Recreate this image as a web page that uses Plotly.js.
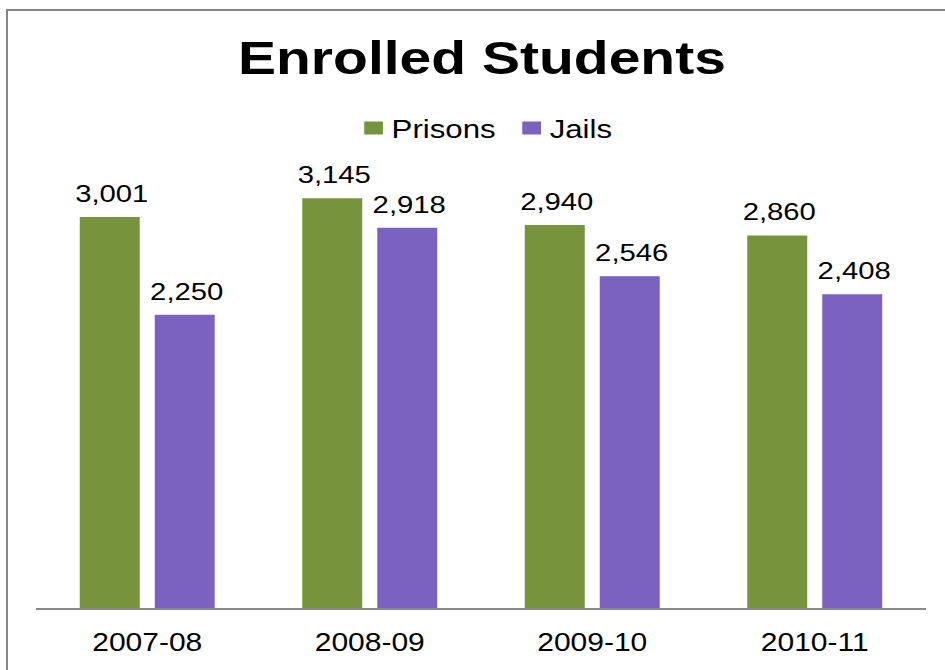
<!DOCTYPE html>
<html>
<head>
<meta charset="utf-8">
<script src="https://cdn.plot.ly/plotly-3.0.1.min.js"></script>
<style>
  html, body { margin: 0; padding: 0; overflow: hidden; background: #fff; }
  #chart { width: 945px; height: 670px; position: absolute; left: 0; top: 0; }
  #frame { position: absolute; left: 6px; top: 9px; width: 1200px; height: 1200px;
           border: 2px solid #858585; pointer-events: none; }
</style>
</head>
<body>
<div id="chart"></div>
<div id="frame"></div>
<script>
const categories = ["2007-08", "2008-09", "2009-10", "2010-11"];
const prisons = [3001, 3145, 2940, 2860];
const jails = [2250, 2918, 2546, 2408];
const seriesNames = ["Prisons", "Jails"];
const titleText = "Enrolled Students";

const FONT = "Liberation Sans, Arial, Helvetica, sans-serif";
const GREEN = "#77933C";
const PURPLE = "#7B61C0";

const traces = [
  {
    type: "bar", name: seriesNames[0], x: categories, y: prisons,
    marker: { color: GREEN },
    text: prisons, texttemplate: "%{y:,}", textposition: "outside",
    constraintext: "none", cliponaxis: false,
    textfont: { family: FONT, size: 24, color: "#000" },
    hoverinfo: "skip"
  },
  {
    type: "bar", name: seriesNames[1], x: categories, y: jails,
    marker: { color: PURPLE },
    text: jails, texttemplate: "%{y:,}", textposition: "outside",
    constraintext: "none", cliponaxis: false,
    textfont: { family: FONT, size: 24, color: "#000" },
    hoverinfo: "skip"
  }
];

const layout = {
  width: 945, height: 670,
  margin: { l: 36, r: 19, t: 152, b: 62 },
  paper_bgcolor: "#fff", plot_bgcolor: "#fff",
  barmode: "group", bargap: 0.326, bargroupgap: 0.2,
  separators: ".,",
  title: {
    text: titleText, x: 0.51, xanchor: "center",
    y: 1 - 58 / 670, yref: "container", yanchor: "middle",
    font: { family: FONT, size: 46, color: "#000", weight: "bold" }
  },
  showlegend: true,
  legend: {
    orientation: "h", x: 0.5, xanchor: "center", y: 1.0526, yanchor: "middle",
    font: { family: FONT, size: 26, color: "#000" },
    itemclick: false, itemdoubleclick: false, bgcolor: "rgba(0,0,0,0)"
  },
  xaxis: {
    type: "category", showline: true, linecolor: "#888", linewidth: 2,
    ticks: "", showgrid: false, zeroline: false, ticklabelstandoff: 11,
    tickfont: { family: FONT, size: 25, color: "#000" }
  },
  yaxis: { visible: false, range: [0, 3500], showgrid: false, zeroline: false },
  hovermode: false
};

function stretch(el, sx, sy, anchor) {
  const bb = el.getBBox();
  const cx = anchor === "start" ? bb.x : bb.x + bb.width / 2;
  const t = el.getAttribute("transform") || "";
  el.setAttribute("transform", t + ` translate(${cx},0) scale(${sx},${sy}) translate(${-cx},0)`);
}

Plotly.newPlot("chart", traces, layout, { staticPlot: true, displayModeBar: false }).then(gd => {
  // Reference text is horizontally stretched
  const title = gd.querySelector(".gtitle");
  if (title) stretch(title, 1.24, 1, "middle");
  gd.querySelectorAll(".xtick text").forEach(t => stretch(t, 1.2, 1, "middle"));
  gd.querySelectorAll(".bartext").forEach(t => {
    stretch(t, 1.22, 1, "middle");
    t.setAttribute("transform", "translate(2,-7) " + (t.getAttribute("transform") || ""));
  });
  gd.querySelectorAll(".legend .legendpoints path").forEach(p => {
    const tr = p.getAttribute("transform") || "";
    p.setAttribute("transform", tr + " translate(5,0) scale(1.3,1.08)");
  });
  const leg = gd.querySelector(".legend");
  if (leg) stretch(leg, 1.2, 1, "middle");
});
</script>
</body>
</html>
